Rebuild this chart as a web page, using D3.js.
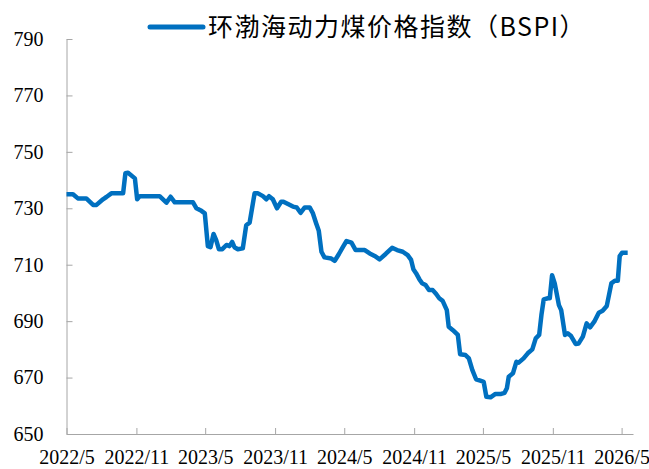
<!DOCTYPE html>
<html>
<head>
<meta charset="utf-8">
<script src="https://cdn.jsdelivr.net/npm/d3@7"></script>
<style>
  body { margin: 0; background: #fff; }
  .axis path, .axis line { stroke: #a6a6a6; }
  .axis text { font-family: "Liberation Serif", "Times New Roman", serif; fill: #000; }
</style>
</head>
<body>
<svg class="chartSVG" width="649" height="469"></svg>
<script>
// weekly BSPI readings
const dates = [
  '2022-05-01','2022-05-18','2022-05-31','2022-06-22','2022-07-10','2022-07-19','2022-08-05','2022-08-14',
  '2022-08-27','2022-09-27','2022-10-03','2022-10-10','2022-10-28','2022-11-03','2022-11-10','2023-01-01',
  '2023-01-19','2023-01-30','2023-02-10','2023-03-30','2023-04-08','2023-04-21','2023-04-30','2023-05-08',
  '2023-05-15','2023-05-23','2023-05-30','2023-06-06','2023-06-15','2023-06-26','2023-07-04','2023-07-11',
  '2023-07-17','2023-07-26','2023-08-08','2023-08-17','2023-08-26','2023-09-08','2023-09-17','2023-09-30',
  '2023-10-09','2023-10-16','2023-10-26','2023-11-06','2023-11-17','2023-11-23','2023-12-05','2023-12-18',
  '2023-12-28','2024-01-07','2024-01-18','2024-01-31','2024-02-08','2024-02-17','2024-02-24','2024-03-02',
  '2024-03-10','2024-03-28','2024-04-06','2024-04-17','2024-04-28','2024-05-07','2024-05-20','2024-05-31',
  '2024-06-24','2024-07-07','2024-07-20','2024-08-02','2024-08-18','2024-09-04','2024-09-17','2024-10-02',
  '2024-10-15','2024-10-24','2024-10-30','2024-11-06','2024-11-15','2024-11-22','2024-12-01','2024-12-10',
  '2024-12-20','2024-12-29','2025-01-06','2025-01-15','2025-01-26','2025-01-31','2025-02-11','2025-02-24',
  '2025-03-02','2025-03-16','2025-03-25','2025-04-03','2025-04-13','2025-04-24','2025-05-03','2025-05-10',
  '2025-05-21','2025-06-03','2025-06-18','2025-06-27','2025-07-03','2025-07-08','2025-07-19','2025-07-28',
  '2025-08-03','2025-08-16','2025-08-27','2025-09-08','2025-09-17','2025-09-26','2025-10-02','2025-10-08',
  '2025-10-19','2025-10-24','2025-10-30','2025-11-06','2025-11-17','2025-11-23','2025-12-03','2025-12-10',
  '2025-12-19','2025-12-31','2026-01-08','2026-01-19','2026-01-29','2026-02-07','2026-02-18','2026-03-02',
  '2026-03-12','2026-03-23','2026-04-04','2026-04-13','2026-04-21','2026-04-26','2026-05-02','2026-05-17'
];
const bspi = [
  735, 735, 733.5, 733.5, 731.2, 731.2, 733.2, 734,
  735.3, 735.3, 742.4, 742.6, 740.6, 733.2, 734.3, 734.3,
  732, 734.1, 732.1, 732.1, 730, 729.1, 728.2, 716.6,
  716.2, 720.9, 718.7, 715.5, 715.5, 717, 716.6, 718.1,
  716.2, 715.5, 715.8, 724, 724.9, 735.3, 735.3, 734.3,
  733.2, 734.3, 733.2, 730, 732.3, 732.3, 731.5, 730.6,
  730.3, 728.4, 730.3, 730.3, 728.4, 724.7, 722, 714.6,
  712.6, 712.2, 711.4, 713.8, 716.4, 718.4, 717.8, 715.2,
  715.2, 714, 713.1, 711.9, 713.8, 716, 715.2, 714.6,
  713.4, 711.7, 708.4, 707, 704.8, 703.4, 702.8, 701,
  701, 699.6, 698.1, 697.2, 693.9, 688, 686.8, 685.1,
  678.3, 678, 676.8, 672.7, 669.4, 668.9, 668.5, 663.2,
  663, 664.2, 664.2, 664.6, 666.2, 670.3, 671.5, 675.6,
  675.3, 676.8, 678.6, 680, 683.9, 685.1, 692.2, 697.7,
  698.1, 698.1, 706.3, 703.4, 695.7, 693.9, 685.1, 685.7,
  684.7, 681.9, 682.1, 684.5, 689.2, 687.8, 689.8, 693,
  693.7, 695.4, 703.4, 704.3, 704.3, 713.1, 714.2, 714.2
];
const xTickDates = ['2022-05-01','2022-11-01','2023-05-01','2023-11-01','2024-05-01','2024-11-01','2025-05-01','2025-11-01','2026-05-01'];
const xTickLabels = ['2022/5','2022/11','2023/5','2023/11','2024/5','2024/11','2025/5','2025/11','2026/5'];
const yTicks = [650, 670, 690, 710, 730, 750, 770, 790];
const seriesName = '环渤海动力煤价格指数（BSPI）';

const lineColor = '#0070c0';
const parse = d3.timeParse('%Y-%m-%d');
const data = dates.map((d, i) => ({date: parse(d), value: bspi[i]}));

const margin = {l: 66.5, r: 16, t: 39, b: 35};
const width = 649, height = 469;
const svg = d3.select('.chartSVG');

const scaleX = d3.scaleTime()
  .domain([parse('2022-05-01'), parse('2026-05-31')])
  .range([margin.l, width - margin.r]);
const scaleY = d3.scaleLinear()
  .domain([650, 790])
  .range([height - margin.b, margin.t]);

// axes: ticks point inwards like the Excel original
svg.append('g')
  .attr('class', 'axis yAxis')
  .attr('transform', `translate(${margin.l}, 0)`)
  .call(d3.axisLeft(scaleY).tickValues(yTicks).tickSizeInner(-6).tickSizeOuter(0).tickPadding(23))
  .call(g => g.selectAll('text').attr('font-size', 20));

svg.append('g')
  .attr('class', 'axis xAxis')
  .attr('transform', `translate(0, ${height - margin.b})`)
  .call(d3.axisBottom(scaleX)
    .tickValues(xTickDates.map(parse))
    .tickFormat((d, i) => xTickLabels[i])
    .tickSizeInner(-6).tickSizeOuter(0).tickPadding(16))
  .call(g => g.selectAll('text').attr('font-size', 20));

const line = d3.line()
  .x(d => scaleX(d.date))
  .y(d => scaleY(d.value));

svg.append('path')
  .datum(data)
  .attr('d', line)
  .attr('fill', 'none')
  .attr('stroke', lineColor)
  .attr('stroke-width', 4.5)
  .attr('stroke-linejoin', 'round')
  .attr('stroke-linecap', 'butt');

// legend on top
const legend = svg.append('g').attr('class', 'legend');
legend.append('line')
  .attr('x1', 150).attr('x2', 203)
  .attr('y1', 27).attr('y2', 27)
  .attr('stroke', lineColor)
  .attr('stroke-width', 5)
  .attr('stroke-linecap', 'round');
legend.append('text')
  .attr('x', 208)
  .attr('y', 27)
  .attr('dy', '0.35em')
  .attr('font-family', '"Noto Sans CJK SC", sans-serif')
  .attr('font-size', 25)
  .attr('letter-spacing', 1.5)
  .attr('fill', '#000')
  .text(seriesName);
</script>
</body>
</html>
